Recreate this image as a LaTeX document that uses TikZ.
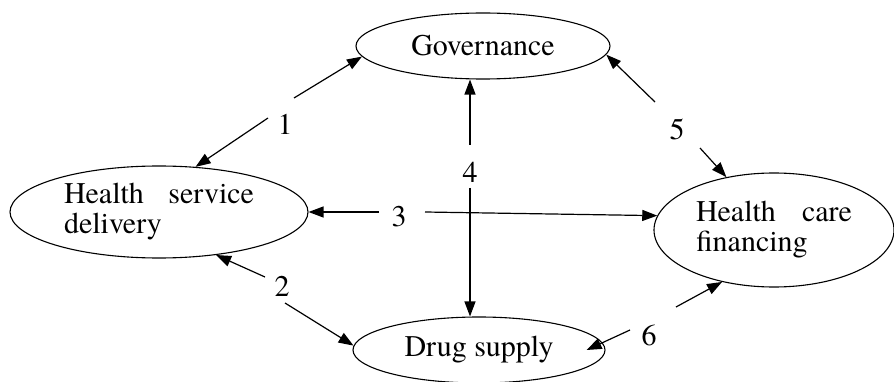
\documentclass[tikz,border=0pt]{standalone}
\usepackage{fontspec}
\newfontfamily\tmsfont{texgyretermes}[Extension=.otf, UprightFont=*-regular]
\usetikzlibrary{shapes.geometric,arrows.meta,calc}
\tikzset{
  ell/.style={draw, ellipse, inner sep=0pt, line width=1.1pt, font=\tmsfont\fontsize{30}{30}\selectfont},
  num/.style={inner sep=1pt, font=\tmsfont\fontsize{30}{30}\selectfont},
  arr/.style={-{Triangle[length=15pt,width=11pt]}, line width=1.2pt},
}
\begin{document}
\begin{tikzpicture}[x=1pt,y=-1pt]
\useasboundingbox (0,0) rectangle (894,382);
% ellipses
\node[ell, minimum width=254pt, minimum height=66pt] (gov) at (483,46) {Governance};
\node[ell, minimum width=298pt, minimum height=92pt, align=left, text width=190pt] (hsd) at (159,212) {Health\hfill service\\delivery};
\node[ell, minimum width=240pt, minimum height=114pt, align=left, text width=156pt] (hcf) at (774,230) {Health\hfill care\\financing};
\node[ell, minimum width=252pt, minimum height=66pt] (drug) at (479,350) {Drug supply};
% labels
\node[num] (l1) at (285,124) {1};
\node[num] (l2) at (282,286) {2};
\node[num] (l3) at (399,217) {3};
\node[num] (l4) at (470,172) {4};
\node[num] (l5) at (677,129) {5};
\node[num] (l6) at (649,335) {6};
% free ends of the connectors
\coordinate (c1a) at (294,98);
\coordinate (c1b) at (268,118);
\coordinate (c2a) at (265,277);
\coordinate (c2b) at (285,303);
\coordinate (c3a) at (379,212);
\coordinate (c3b) at (425,212);
\coordinate (c4a) at (470,145);
\coordinate (c4b) at (470,188);
\coordinate (c5a) at (655,102);
\coordinate (c5b) at (700,148);
\coordinate (c6a) at (676,307);
\coordinate (c6b) at (630,330);
% connectors
\draw[arr] (c1a) -- (gov.185);
\draw[arr] (c1b) -- (hsd.51);
\draw[arr] (c2a) -- (hsd.-37);
\draw[arr] (c2b) -- (drug.178);
\draw[arr] (c3a) -- (hsd.east);
\draw[arr] (c3b) -- (hcf.173);
\draw[arr] (c4a) -- (c4a |- gov.south);
\draw[arr] (c4b) -- (c4b |- drug.north);
\draw[arr] (c5a) -- (gov.-4);
\draw[arr] (c5b) -- (hcf.132);
\draw[arr] (c6a) -- (hcf.225);
\draw[arr] (c6b) -- ($(drug.center)!0.85!(drug.east)$);
\end{tikzpicture}
\end{document}
